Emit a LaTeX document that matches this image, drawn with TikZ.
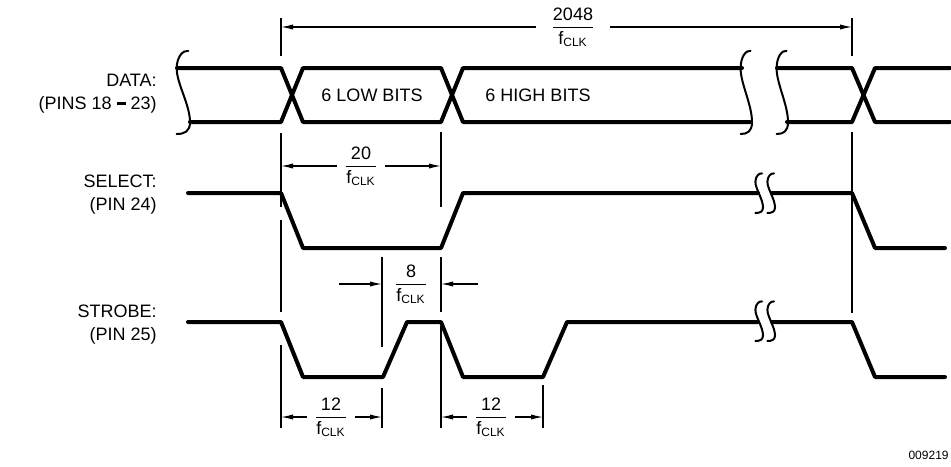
\documentclass[tikz,border=0pt]{standalone}
\usepackage{amsmath}
\usepackage{fontspec}
\setmainfont{Liberation Sans}
\usetikzlibrary{arrows.meta}
\tikzset{
        wave/.style={line width=2pt, line join=round, line cap=round}, % the signal traces
        guide/.style={line width=0.6pt}, % thin timing marks
        dimarrow/.style={line width=0.6pt, -{Latex[length=6pt,width=2.6pt]}},
        brkline/.style={line width=1pt, line cap=round},
        brk/.pic={\draw[brkline] (0.38,-0.49) .. controls (0.0,-0.5) and (-0.45,-0.42) .. (-0.45,-0.28)
                                 .. controls (-0.45,-0.1) and (0.5,0.15) .. (0.5,0.36)
                                 .. controls (0.5,0.47) and (0.1,0.5) .. (-0.45,0.5);},
        sig/.style={align=right, anchor=east, inner sep=0pt, font=\fontsize{9}{11.5}\selectfont},
        frac/.style={inner sep=3.5pt, font=\fontsize{9}{11}\selectfont},
    }
\newcommand{\tclk}[1]{$\dfrac{\text{#1}}{\text{f}_{\text{CLK}}}$}

\begin{document}
\begin{tikzpicture}[x=0.5pt,y=-0.5pt]
    \useasboundingbox (0,0) rectangle (951,466);
    % signal names
    \node[sig] (data) at (157,94) {DATA:\\(PINS 18\kern2.5pt\rule[0.28em]{0.5em}{0.14em}\kern2.5pt 23)};
    \node[sig] (select) at (157,195) {SELECT:\\(PIN 24)};
    \node[sig] (strobe) at (157,325) {STROBE:\\(PIN 25)};

    % data bus
    \draw[wave] (177,68) -- (281,68) -- (303,122) -- (441,122) -- (463,68) -- (742,68);
    \draw[wave] (190,122) -- (281,122) -- (303,68) -- (441,68) -- (463,122) -- (750,122);
    \draw[wave] (777,68) -- (852,68) -- (875,122) -- (950,122);
    \draw[wave] (787,122) -- (852,122) -- (875,68) -- (950,68);
    \pic[xscale=14,yscale=84] at (183,92) {brk};
    \pic[xscale=12,yscale=84] at (746,92) {brk};
    \pic[xscale=12,yscale=84] at (782,92) {brk};
    \node[font=\fontsize{9}{11}\selectfont] (lowbits) at (372,95) {6 LOW BITS};
    \node[font=\fontsize{9}{11}\selectfont] (highbits) at (538,95) {6 HIGH BITS};

    % select
    \draw[wave] (188,193) -- (281,193) -- (303,248) -- (441,248) -- (463,193) -- (758,193);
    \draw[wave] (772,193) -- (852,193) -- (875,248) -- (945,248);
    \pic[xscale=8,yscale=40] at (759,193) {brk};
    \pic[xscale=8,yscale=40] at (771,193) {brk};

    % strobe
    \draw[wave] (188,322) -- (281,322) -- (303,377) -- (383,377) -- (407,322) -- (441,322)
                -- (463,377) -- (543,377) -- (567,322) -- (758,322);
    \draw[wave] (772,322) -- (852,322) -- (875,377) -- (945,377);
    \pic[xscale=8,yscale=40] at (759,321) {brk};
    \pic[xscale=8,yscale=40] at (771,321) {brk};

    % timing marks
    \draw[guide] (281,18) -- (281,56);
    \draw[guide] (281,133) -- (281,207) (281,220) -- (281,312) (281,345) -- (281,428);
    \draw[guide] (441,132) -- (441,207) (441,257) -- (441,312) (441,326) -- (441,428);
    \draw[guide] (382,257) -- (382,347) (382,388) -- (382,428);
    \draw[guide] (543,385) -- (543,428);
    \draw[guide] (852,18) -- (852,56) (852,132) -- (852,313);

    % dimensions
    \coordinate (d2048l) at (281,27);
    \coordinate (d2048r) at (852,27);
    \node[frac, inner sep=7pt] (f2048) at (573,27) {\tclk{2048}};
    \draw[dimarrow] (f2048) -- (d2048l);
    \draw[dimarrow] (f2048) -- (d2048r);

    \coordinate (d20l) at (281,166);
    \coordinate (d20r) at (441,166);
    \node[frac] (f20) at (361,166) {\tclk{20}};
    \draw[dimarrow] (f20) -- (d20l);
    \draw[dimarrow] (f20) -- (d20r);

    \coordinate (d8a) at (339,284);
    \coordinate (d8b) at (382,284);
    \coordinate (d8c) at (478,284);
    \coordinate (d8d) at (441,284);
    \node[frac] (f8) at (411,284) {\tclk{8}};
    \draw[dimarrow] (d8a) -- (d8b);
    \draw[dimarrow] (d8c) -- (d8d);

    \coordinate (d12l) at (281,417);
    \coordinate (d12r) at (382,417);
    \node[frac] (f12a) at (331,417) {\tclk{12}};
    \draw[dimarrow] (f12a) -- (d12l);
    \draw[dimarrow] (f12a) -- (d12r);

    \coordinate (e12l) at (441,417);
    \coordinate (e12r) at (543,417);
    \node[frac] (f12b) at (491,417) {\tclk{12}};
    \draw[dimarrow] (f12b) -- (e12l);
    \draw[dimarrow] (f12b) -- (e12r);

    \node[anchor=east, inner sep=0pt, font=\fontsize{6}{7}\selectfont] (code) at (949,455) {009219};
\end{tikzpicture}
\end{document}
